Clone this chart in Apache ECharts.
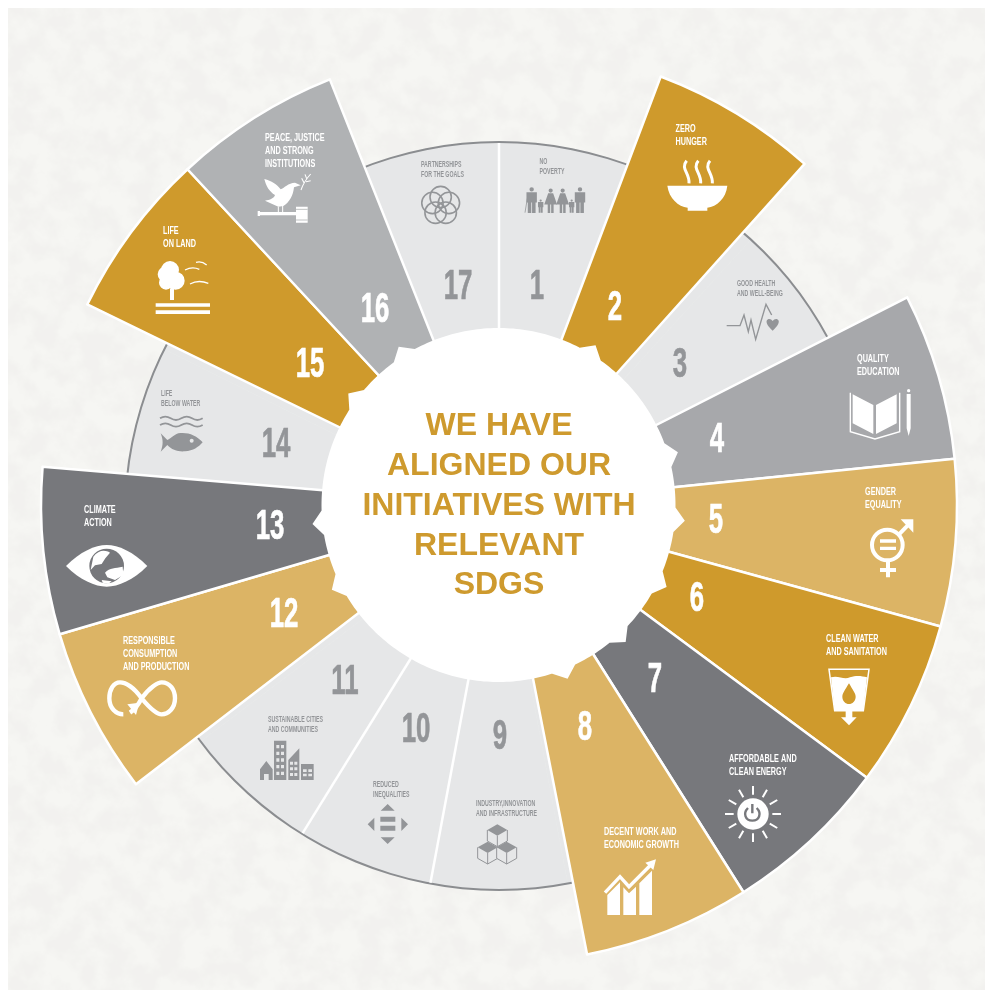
<!DOCTYPE html>
<html><head><meta charset="utf-8">
<style>html,body{margin:0;padding:0;background:#fff}
#paper{position:absolute;left:8px;top:8px;width:977px;height:982px}
#c{position:absolute;left:0;top:0;width:986px;height:998px}</style>
<script src="https://cdn.jsdelivr.net/npm/echarts@6/dist/echarts.min.js"></script>
</head><body>
<svg id="paper" xmlns="http://www.w3.org/2000/svg">
<filter id="t" x="0" y="0" width="100%" height="100%"><feTurbulence type="fractalNoise" baseFrequency="0.04" numOctaves="5" seed="7"/>
<feColorMatrix type="matrix" values="0 0 0 0 0.885  0 0 0 0 0.88  0 0 0 0 0.86  3.2 0 0 0 -1.15"/></filter>
<rect width="100%" height="100%" fill="#f6f6f3"/><rect width="100%" height="100%" filter="url(#t)"/>
</svg>
<div id="c"></div>
<script>
const goals=['1','2','3','4','5','6','7','8','9','10','11','12','13','14','15','16','17'];
const names=['NO\nPOVERTY','ZERO\nHUNGER','GOOD HEALTH\nAND WELL-BEING','QUALITY\nEDUCATION','GENDER\nEQUALITY','CLEAN WATER\nAND SANITATION','AFFORDABLE AND\nCLEAN ENERGY','DECENT WORK AND\nECONOMIC GROWTH','INDUSTRY,INNOVATION\nAND INFRASTRUCTURE','REDUCED\nINEQUALITIES','SUSTAINABLE CITIES\nAND COMMUNITIES','RESPONSIBLE\nCONSUMPTION\nAND PRODUCTION','CLIMATE\nACTION','LIFE\nBELOW WATER','LIFE\nON LAND','PEACE, JUSTICE\nAND STRONG\nINSTITUTIONS','PARTNERSHIPS\nFOR THE GOALS'];
const reach=[374,458,374,458,458,458,458,458,374,374,374,458,458,374,458,458,374];
const sliceColors=['#E6E7E8','#CF9A2C','#E6E7E8','#A7A8AB','#DCB465','#CF9A2C','#77787C','#DCB465','#E6E7E8','#E6E7E8','#E6E7E8','#DCB465','#77787C','#E6E7E8','#CF9A2C','#B0B2B4','#E6E7E8'];
const headline=['WE HAVE','ALIGNED OUR','INITIATIVES WITH','RELEVANT','SDGS'];

const GOLD='#CE9A2E',GREY='#939598',LIGHT='#E6E7E8',WHITE='#FFFFFF';
const isTall=reach.map(v=>v>400);
const shortReach=Math.min(...reach);
const numberAt=[[537,287],[615,308],[680,365],[717,440],[716,521],[697,599],[655,680],[585,728],[500,737],[416,730],[345,682],[284,615],[270,527],[276,445],[310,365],[375,310],[458,287]];
const nameAt=[[539.5,162],[675.5,129],[737,284],[857,359],[865,492],[826,639],[729,759],[604,832],[476,804],[373,785],[268,720],[123,641],[84,510],[161,394],[163,231],[265,138],[421,165]];
const lowC=[499,516],highC=[499,505];

const O={a:[490,70],b:[660,290],c:[560,600],d:[190,650],e:[30,380],f:[130,80]};
const zd=(o,s)=>s.replace(/(-?\d+\.?\d*) (-?\d+\.?\d*)/g,(m,x,y)=>`${(o[0]+x/3).toFixed(2)} ${(o[1]+y/3).toFixed(2)}`);
const circ=(o,x,y,r)=>{const X=o[0]+x/3,Y=o[1]+y/3,R=r/3;return `M${X-R} ${Y}A${R} ${R} 0 1 1 ${X+R} ${Y}A${R} ${R} 0 1 1 ${X-R} ${Y}Z`;};
const box=(o,x0,y0,x1,y1)=>zd(o,`M${x0} ${y0} L${x1} ${y0} L${x1} ${y1} L${x0} ${y1} Z`);
const F=(d,c)=>({type:'path',shape:{pathData:d},style:{fill:c}});
const S=(d,c,w,cap)=>({type:'path',shape:{pathData:d},style:{fill:null,stroke:c,lineWidth:w,lineCap:cap||'butt',lineJoin:'miter'}});

function figure(o,kind,cx,top,h,c){
  let d=circ(o,cx,top+h*.09,h*.085);
  if(kind==='m'){d+=box(o,cx-h*.2,top+h*.2,cx+h*.2,top+h*.6)+box(o,cx-h*.15,top+h*.6,cx-h*.015,top+h)+box(o,cx+h*.015,top+h*.6,cx+h*.15,top+h);}
  else{d+=zd(o,`M${cx-h*.1} ${top+h*.2} L${cx+h*.1} ${top+h*.2} L${cx+h*.26} ${top+h*.66} L${cx-h*.26} ${top+h*.66} Z`)+box(o,cx-h*.12,top+h*.66,cx-h*.02,top+h)+box(o,cx+h*.02,top+h*.66,cx+h*.12,top+h);}
  return F(d,c);
}
function cube(o,cx,cy,c,bg){
  const a=30,b=17,s=33;
  return [F(zd(o,`M${cx-a} ${cy} L${cx} ${cy+b} L${cx+a} ${cy} L${cx+a} ${cy+s} L${cx} ${cy+b+s} L${cx-a} ${cy+s} Z`),bg),
    S(zd(o,`M${cx-a} ${cy} L${cx-a} ${cy+s} L${cx} ${cy+b+s} L${cx+a} ${cy+s} L${cx+a} ${cy} M${cx} ${cy+b} L${cx} ${cy+b+s}`),c,1),
    F(zd(o,`M${cx-a} ${cy} L${cx} ${cy-b} L${cx+a} ${cy} L${cx} ${cy+b} Z`),c)];
}
function icon(i){
  const a=O.a,b=O.b,c=O.c,d=O.d,e=O.e,f=O.f,out=[];
  switch(i){
  case 0:
    out.push(figure(a,'m',125,351,78,GREY),figure(a,'m',152,388,40,GREY),figure(a,'w',182,355,74,GREY),figure(a,'w',218,355,74,GREY),figure(a,'m',245,388,40,GREY),figure(a,'m',270,351,78,GREY));
    out.push(S(zd(a,'M112 385 L105 428'),GREY,.8));break;
  case 1:
    out.push(F(zd(a,'M532 347 L712 347 C708 385 680 410 652 413 L652 422 L593 422 L593 413 C565 410 537 385 532 347 Z'),WHITE));
    [0,35,70].forEach(k=>out.push(S(zd(a,`M${590+k} 272 C${570+k} 295 ${600+k} 310 ${597+k} 340`),WHITE,3)));break;
  case 2:
    out.push(S(zd(a,'M710 767 L750 767 L762 735 L775 785 L783 750 L797 808 L828 703 L845 735'),GREY,1.4));
    out.push(F(zd(a,'M848 782 C835 770 828 760 830 752 C833 745 843 745 848 753 C853 745 863 745 866 752 C868 760 861 770 848 782 Z'),GREY));break;
  case 3:
    out.push(F(zd(b,'M578 313 L640 345 L640 432 L578 400 Z M648 345 L710 313 L710 400 L648 432 Z'),WHITE));
    out.push(S(zd(b,'M571 308 L571 425 L645 447 L719 425 L719 308'),WHITE,1.4));
    out.push(F(zd(b,'M740 312 L752 312 L752 415 L746 438 L740 415 Z')+circ(b,746,302,5),WHITE));break;
  case 4:
    out.push(S(circ(b,682,765,46),WHITE,4));
    out.push(F(box(b,660,748,708,758)+box(b,660,770,708,780),WHITE));
    out.push(S(zd(b,'M717 733 L752 697'),WHITE,4),F(zd(b,'M722 688 L760 688 L760 728 Z'),WHITE));
    out.push(S(zd(b,'M684 812 L684 862 M660 840 L708 840'),WHITE,4));break;
  case 5:
    out.push(S(zd(c,'M807 208 L927 208 L910 332 L824 332 Z'),WHITE,1.5));
    out.push(F(zd(c,'M813 232 C835 225 850 240 870 232 C890 225 905 228 921 232 L910 332 L824 332 Z'),WHITE));
    out.push(F(zd(c,'M867 250 C855 270 847 280 847 290 C847 303 857 312 867 312 C877 312 887 303 887 290 C887 280 878 270 867 250 Z'),sliceColors[5]));
    out.push(F(zd(c,'M857 332 L877 332 L877 352 L890 352 L867 376 L843 352 L857 352 Z'),WHITE));break;
  case 6:{
    const cx=579,cy=642;
    for(let k=0;k<12;k++){const t=k*Math.PI/6,s=Math.sin(t),co=Math.cos(t);
      out.push(S(zd(c,`M${(cx+58*s).toFixed(1)} ${(cy-58*co).toFixed(1)} L${(cx+84*s).toFixed(1)} ${(cy-84*co).toFixed(1)}`),WHITE,2));}
    out.push(F(circ(c,cx,cy,47),WHITE));
    out.push(S(zd(c,'M564 624 C548 640 556 662 577 662 C598 662 606 640 590 624 M577 612 L577 640'),sliceColors[6],2.4));break;}
  case 7:
    out.push(S(zd(c,'M135 878 L180 830 L207 860 L272 795'),WHITE,3.4),F(zd(c,'M288 778 L256 788 L280 810 Z'),WHITE));
    out.push(F(zd(c,'M142 885 L180 847 L180 945 L142 945 Z M190 862 L207 880 L228 860 L228 945 L190 945 Z M238 850 L276 812 L276 945 L238 945 Z'),WHITE));break;
  case 8:
    out.push(...cube(d,922,540,GREY,LIGHT),...cube(d,893,592,GREY,LIGHT),...cube(d,950,592,GREY,LIGHT));break;
  case 9:
    out.push(F(zd(d,'M593 462 L614 482 L572 482 Z M593 582 L572 562 L614 562 Z M553 503 L553 543 L533 523 Z M634 503 L654 523 L634 543 Z')+box(d,571,500,616,515)+box(d,571,527,616,542),GREY));break;
  case 10:{
    out.push(F(zd(d,'M229 333 L248 358 L248 390 L236 390 L236 372 L222 372 L222 390 L210 390 L210 358 Z')+box(d,252,272,289,390)+zd(d,'M295 390 L295 330 L328 295 L328 390 Z')+box(d,333,342,371,390),GREY));
    let w='';
    for(let r=0;r<5;r++)for(let k=0;k<2;k++)w+=box(d,259+k*14,285+r*20,268+k*14,295+r*20);
    for(let r=0;r<3;r++)for(let k=0;k<2;k++)w+=box(d,300+k*13,335+r*17,309+k*13,344+r*17);
    for(let r=0;r<2;r++)for(let k=0;k<2;k++)w+=box(d,339+k*16,358+r*13,350+k*16,366+r*13);
    out.push(F(w,LIGHT));break;}
  case 11:
    out.push(S(zd(e,'M335 955 C310 920 285 907 270 907 C250 907 238 930 238 955 C238 985 258 1003 280 1003 M335 955 C360 920 385 907 395 907 C420 907 435 930 435 955 C435 985 415 1003 395 1003 C380 1003 360 985 335 955 C325 975 312 990 300 998'),WHITE,4.4));
    out.push(F(zd(e,'M292 973 L328 968 L318 1005 Z'),WHITE));break;
  case 12:
    out.push(F(zd(e,'M108 558 C150 515 195 495 230 495 C265 495 310 515 352 558 C310 600 265 620 230 620 C195 620 150 600 108 558 Z'),WHITE));
    out.push(F(circ(e,230,558,52),sliceColors[12]));
    out.push(F(zd(e,'M190 530 C205 510 225 508 240 518 L226 535 L215 552 L195 556 L182 570 Z M225 578 C240 562 255 566 278 560 L280 585 L255 600 L232 592 Z M215 600 L245 604 L235 611 L218 608 Z'),WHITE));break;
  case 13:
    [115,135].forEach(y=>out.push(S(zd(e,`M390 ${y} Q406 ${y-10} 422 ${y} Q438 ${y+10} 454 ${y} Q470 ${y-10} 486 ${y} Q502 ${y+10} 518 ${y}`),GREY,1.8)));
    out.push(F(zd(e,'M518 187 C500 165 470 155 445 160 C430 165 420 178 412 180 L392 160 C400 180 400 195 392 215 L412 195 C425 210 445 216 465 214 C490 212 505 202 518 187 Z'),GREY));
    out.push(F(circ(e,485,182,6),LIGHT));break;
  case 14:
    out.push(F(circ(f,120,570,27)+circ(f,107,583,24)+circ(f,137,602,27)+circ(f,108,608,21)+box(f,120,625,132,660)+box(f,77,670,240,680)+box(f,77,691,240,702),WHITE));
    out.push(S(zd(f,'M165 570 Q187 558 208 568 M198 547 Q215 542 230 555 M180 612 Q205 598 235 610'),WHITE,1.3));break;
  case 15:
    out.push(F(zd(f,'M403 297 C425 303 440 312 452 328 C462 325 475 308 495 308 L512 316 L492 322 C490 345 478 368 460 378 L445 380 L405 362 C420 360 432 355 435 345 C418 335 408 318 403 297 Z'),WHITE));
    out.push(S(zd(f,'M513 330 C520 310 530 295 542 282 M522 308 L515 295 M530 296 L525 283 M528 305 L542 302'),WHITE,1.1));
    out.push(F(box(f,385,396,500,406)+box(f,383,393,390,408)+box(f,498,380,533,428),WHITE));
    out.push(S(zd(f,'M498 388 L533 388 M498 420 L533 420'),sliceColors[15],.8));
    out.push(S(zd(f,'M445 380 L445 396 M458 378 L458 396'),WHITE,1));break;
  case 16:
    for(let k=0;k<5;k++){const t=k*2*Math.PI/5;out.push(S(circ(f,932+26*Math.sin(t),377-26*Math.cos(t),32),GREY,1.6));}break;
  }
  return out;
}
const labelText=(str,x,y,font,fill,sx)=>({type:'text',x,y,scaleX:sx,style:{text:str,x:0,y:0,font,fill,textAlign:'left',textVerticalAlign:'middle'}});

function renderGoal(params,api){
  const i=api.value(0),tall=isTall[i],kids=[];
  const prev=(i+goals.length-1)%goals.length;
  if(!tall&&!isTall[prev]){ // white rule between two neighbouring short slices
    const t=i*2*Math.PI/goals.length,R=shortReach-1;
    kids.push({type:'line',shape:{x1:lowC[0]+100*Math.sin(t),y1:lowC[1]-100*Math.cos(t),x2:lowC[0]+R*Math.sin(t),y2:lowC[1]-R*Math.cos(t)},style:{stroke:'#fff',lineWidth:2.5}});
  }
  kids.push(...icon(i));
  const ink=tall?WHITE:GREY;
  const [nx,ny]=numberAt[i];
  kids.push({type:'text',x:nx,y:ny,scaleX:.6,style:{text:goals[i],x:0,y:0,font:'bold 43px "Liberation Sans",Arial,sans-serif',fill:ink,stroke:ink,lineWidth:.7,textAlign:'center',textVerticalAlign:'middle'}});
  const [tx,ty]=nameAt[i];
  names[i].split('\n').forEach((ln,k)=>{
    kids.push(labelText(ln,tx,ty+k*(tall?13:9.5),tall?'bold 11.5px "Liberation Sans",Arial,sans-serif':'bold 9px "Liberation Sans",Arial,sans-serif',ink,tall?.63:.58));
  });
  return {type:'group',children:kids};
}

// white hub: round, with one triangular tooth at the middle of every tall slice
const hubC=[498.5,505],hubR=177,toothR=187,toothHalf=4;
function hubPoints(){
  const pts=[],n=goals.length,step=360/n;
  for(let i=0;i<n;i++){
    const s=i*step,m=s+step/2;
    for(let k=0;k<=20;k++){
      const t=s+step*k/20;
      if(isTall[i]&&Math.abs(t-m)<toothHalf)continue;
      pts.push([t,hubR]);
      if(isTall[i]&&t<m&&t+step/20>=m-toothHalf){pts.push([m-toothHalf,hubR],[m,toothR],[m+toothHalf,hubR]);}
    }
  }
  return pts.map(([t,r])=>{const a=(t-0.5)*Math.PI/180;return [hubC[0]+r*Math.sin(a),hubC[1]-r*Math.cos(a)];});
}

const chart=echarts.init(document.getElementById('c'),null,{renderer:'canvas'});
const base={type:'pie',roseType:'area',clockwise:true,silent:true,label:{show:false},labelLine:{show:false},emphasis:{disabled:true},animation:false};
chart.setOption({
  animation:false,
  backgroundColor:'transparent',
  series:[
    Object.assign({},base,{name:'All goals',z:1,startAngle:90,center:lowC,radius:[0,shortReach],
      data:goals.map((g,i)=>({name:names[i],value:shortReach,itemStyle:{color:LIGHT,borderColor:LIGHT,borderWidth:.6}}))}),
    {type:'pie',z:2,silent:true,center:lowC,radius:[shortReach-1,shortReach+1],startAngle:90,label:{show:false},labelLine:{show:false},emphasis:{disabled:true},animation:false,data:[{name:'rim',value:1,itemStyle:{color:'#8B8D90'}}]},
    Object.assign({},base,{name:'Highlighted goals',z:3,startAngle:90.5,center:highC,radius:[0,Math.max(...reach)],
      data:goals.map((g,i)=>isTall[i]?{name:names[i],value:reach[i],itemStyle:{color:sliceColors[i],borderColor:'#fff',borderWidth:2.5}}:{name:names[i],value:0,itemStyle:{color:'transparent',borderWidth:0}})}),
    {type:'custom',z:5,coordinateSystem:'none',silent:true,animation:false,data:goals.map((g,i)=>[i]),encode:{},renderItem:renderGoal}
  ],
  graphic:[
    {type:'polygon',z:50,silent:true,shape:{points:hubPoints()},style:{fill:'#fff'}},
    ...headline.map((t,i)=>({type:'text',z:51,silent:true,x:499,y:426+i*39.9,style:{text:t,font:'bold 32px "Liberation Sans",Arial,sans-serif',fill:GOLD,textAlign:'center',textVerticalAlign:'middle'}}))
  ]
});
</script></body></html>
